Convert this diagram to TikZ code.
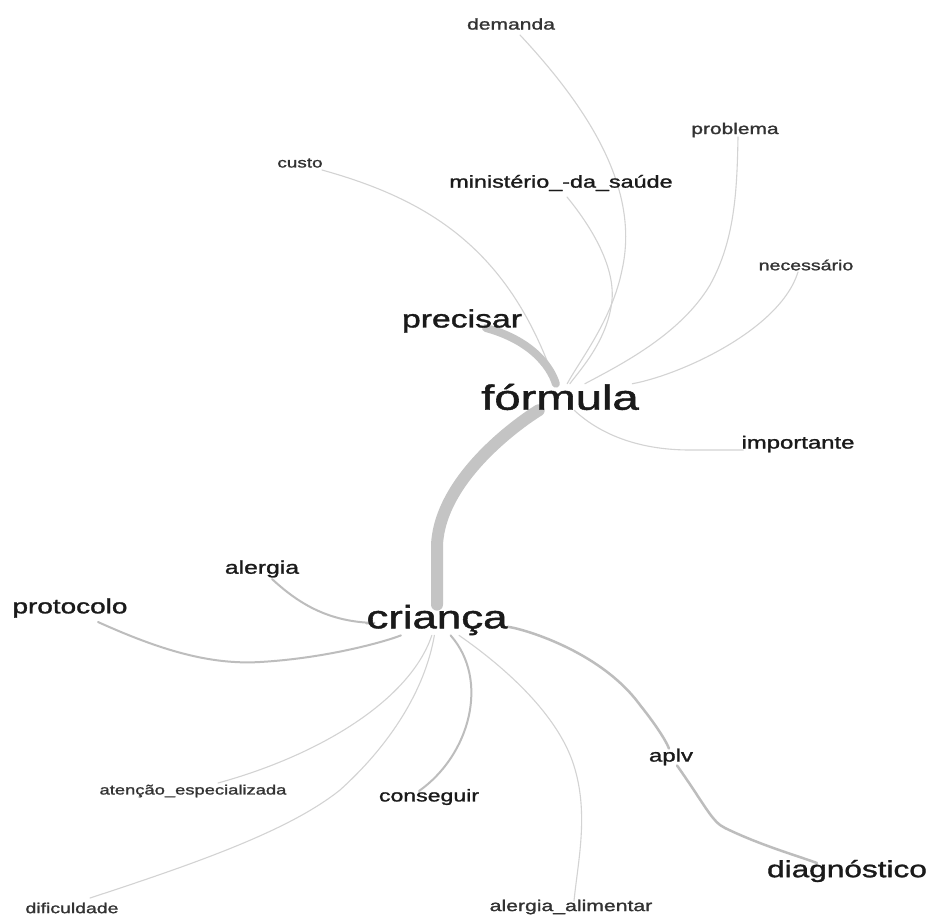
\documentclass[tikz,border=0pt]{standalone}
\usepackage{fontspec}
\setmainfont{Liberation Sans}
\newfontfamily\wordfont{Liberation Sans}[FakeBold=1.2]
\usepackage{graphicx}
\usetikzlibrary{backgrounds,calc}
\definecolor{txt}{HTML}{1A1A1A}
\definecolor{txtl}{HTML}{333333}
\definecolor{lgt}{HTML}{D3D3D3}
\definecolor{mid}{HTML}{BDBDBD}
\definecolor{thk}{HTML}{C4C4C4}
\newcommand{\stretchtxt}[1]{\scalebox{1.35}[1]{#1}}
\begin{document}
\begin{tikzpicture}[x=1pt,y=-1pt,
  word/.style={inner sep=0pt, text=txt, font=\wordfont\fontsize{#1}{#1}\selectfont},
  smallword/.style={inner sep=0pt, text=txtl, font=\wordfont\fontsize{#1}{#1}\selectfont},
  thinedge/.style={draw=lgt, line width=1.1pt, line cap=round},
  midedge/.style={draw=mid, line width=2pt, line cap=round},
  thickedge/.style={draw=thk, line width=#1, line cap=round}]
\useasboundingbox (0,0) rectangle (931,918);

% words
\node[smallword=15.6] (demanda) at (511,24) {\stretchtxt{demanda}};
\node[smallword=14] (custo) at (300,163) {\stretchtxt{custo}};
\node[word=17.3] (ministerio) at (561,183) {\stretchtxt{ministério\_-da\_saúde}};
\node[smallword=15.5] (problema) at (735,130) {\stretchtxt{problema}};
\node[smallword=14.5] (necessario) at (806,265) {\stretchtxt{necessário}};
\node[word=25] (precisar) at (462,321) {\stretchtxt{precisar}};
\node[word=35] (formula) at (560,397) {\stretchtxt{fórmula}};
\node[word=17.7] (importante) at (798,444) {\stretchtxt{importante}};
\node[word=18.3] (alergia) at (262,569) {\stretchtxt{alergia}};
\node[word=20.7] (protocolo) at (70,608) {\stretchtxt{protocolo}};
\node[word=32.4] (crianca) at (437,620) {\stretchtxt{criança}};
\node[smallword=13.6] (atencao) at (193,791) {\stretchtxt{atenção\_especializada}};
\node[word=17.1] (conseguir) at (429,797) {\stretchtxt{conseguir}};
\node[word=17.8] (aplv) at (671,757) {\stretchtxt{aplv}};
\node[word=23.4] (diagnostico) at (847,871) {\stretchtxt{diagnóstico}};
\node[smallword=14.4] (dificuldade) at (72,908) {\stretchtxt{dificuldade}};
\node[smallword=15.7] (alimentar) at (571,907) {\stretchtxt{alergia\_alimentar}};

\begin{scope}[on background layer]
\fill[white] (0,0) rectangle (931,918);
% formula branch
\draw[thinedge] ($(custo)+(22,7)$) .. controls (430,200) and (510,250) .. (formula);
\draw[thinedge] ($(demanda)+(9,11)$) .. controls (590,110) and (640,190) .. (622,270)
   .. controls (612,320) and (580,360) .. (formula);
\draw[thinedge] ($(ministerio)+(6,14)$) .. controls (590,225) and (615,265) .. (612,300)
   .. controls (608,340) and (580,370) .. (formula);
\draw[thinedge] ($(problema)+(3,7)$) .. controls (737,190) and (735,240) .. (710,285)
   .. controls (680,335) and (620,365) .. (formula);
\draw[thinedge] ($(necessario)+(-8,7)$) .. controls (780,330) and (680,375) .. (formula);
\draw[thinedge] (formula) .. controls (590,425) and (625,450) .. (690,450) -- ($(importante.west)+(2,6)$);
\draw[thickedge=8pt] ($(precisar)+(24,7)$) .. controls (530,340) and (550,365) .. (formula);
\draw[thickedge=12pt] (formula) .. controls (515,425) and (440,480) .. (437,545) -- (crianca);
% crianca branch
\draw[midedge] ($(alergia)+(10,10)$) .. controls (300,605) and (330,622) .. (375,623) -- (crianca);
\draw[midedge] ($(protocolo)+(28,14)$) .. controls (160,650) and (210,665) .. (260,662)
   .. controls (330,658) and (390,640) .. (crianca);
\draw[thinedge] ($(atencao)+(25,-8)$) .. controls (320,755) and (410,700) .. (crianca);
\draw[thinedge] ($(dificuldade)+(18,-10)$) .. controls (200,862) and (290,830) .. (340,790)
   .. controls (390,745) and (425,690) .. (crianca);
\draw[midedge] ($(conseguir)+(-10,-6)$) .. controls (470,755) and (490,680) .. (crianca);
\draw[thinedge] (crianca) .. controls (480,650) and (550,700) .. (572,760)
   .. controls (590,810) and (578,860) .. ($(alimentar)+(3,-6)$);
\draw[midedge, line width=2.5pt] (crianca) .. controls (520,628) and (600,650) .. (640,705)
   .. controls (660,730) and (668,745) .. (aplv);
\draw[midedge, line width=2.5pt] (aplv) .. controls (705,805) and (712,822) .. (725,828)
   .. controls (760,845) and (795,855) .. ($(diagnostico)+(-30,-8)$);
\end{scope}
\end{tikzpicture}
\end{document}
